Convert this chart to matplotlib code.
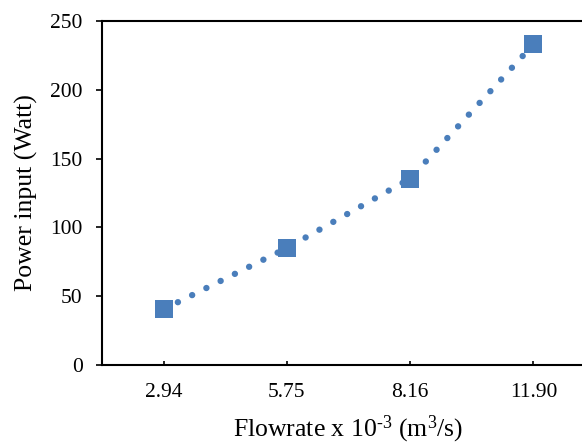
import matplotlib
matplotlib.use("Agg")
import matplotlib.pyplot as plt

categories = ["2.94", "5.75", "8.16", "11.90"]
power = [40.5, 85, 135.5, 233]
y_ticks = [0, 50, 100, 150, 200, 250]

plt.rcParams['font.family'] = ['Liberation Serif', 'DejaVu Serif']
plt.rcParams['mathtext.fontset'] = 'custom'
plt.rcParams['mathtext.rm'] = 'Liberation Serif'
plt.rcParams['mathtext.it'] = 'Liberation Serif:italic'

W, H = 582, 443
fig = plt.figure(figsize=(W / 100, H / 100), dpi=100)
left, right, top, bottom = 102, 595, 21, 365
ax = fig.add_axes([left / W, (H - bottom) / H, (right - left) / W, (bottom - top) / H])

color = '#4a7ebb'
x = list(range(len(categories)))
ax.plot(x, power, color=color, lw=4.6, linestyle=(0, (0.01, 2.48)),
        dash_capstyle='round', zorder=2)
ax.plot(x, power, linestyle='none', marker='s', markersize=13,
        color=color, markeredgewidth=0, zorder=3)

ax.set_xlim(-0.5, len(categories) - 0.5)
ax.set_ylim(0, 250)
ax.set_xticks(x)
ax.set_xticklabels(categories)
ax.set_yticks(y_ticks)

for s in ['left', 'bottom', 'top']:
    ax.spines[s].set_linewidth(1.5)
ax.spines['right'].set_visible(False)

ax.tick_params(axis='x', direction='in', length=3, width=1.2, labelsize=15.5, pad=13)
ax.tick_params(axis='y', direction='out', length=4, width=1.2, labelsize=15.5, pad=10)

ax.set_ylabel('Power input (Watt)', fontsize=18.5, labelpad=9)
ax.set_xlabel(r'Flowrate x 10$^{\text{-3}}$ (m$^{\text{3}}$/s)', fontsize=18.5, labelpad=8)

fig.savefig('out.png', dpi=100)
